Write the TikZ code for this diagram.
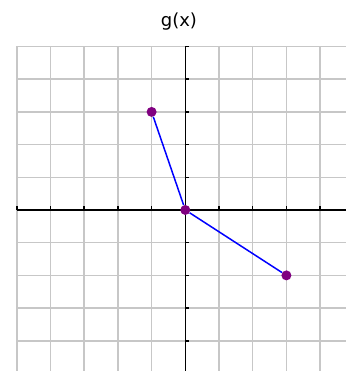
\documentclass[tikz,border=0pt]{standalone}
\usepackage{fontspec}
\setsansfont{DejaVu Sans}
\usetikzlibrary{positioning}

\begin{document}
\begin{tikzpicture}
[
	x=33.7pt, y=32.7pt,
	gridline/.style={draw=black!22,line width=1.5pt},
	axis/.style={draw=black,line width=1.5pt},
	dot/.style={shape=circle,fill=violet,draw=none,minimum size=10pt,inner sep=0pt},
	graph/.style={draw=blue,line width=1.5pt},
]
	\useasboundingbox (-5.499,-4.924) rectangle (4.769,6.422);

	\begin{scope}
		\draw[gridline,step=1] (-5,-4.924) grid (4.769,5);
		\draw[axis] (-5,0) -- (4.769,0);
		\draw[axis] (0,-4.924) -- (0,5);
		\foreach \x in {-5,...,4}
			\draw[axis] (\x,0) -- ++(0,4pt);
		\foreach \y in {-4,...,5}
			\draw[axis] (0,\y) -- ++(4pt,0);
	\end{scope}

	\node[font=\sffamily\fontsize{18}{21}\selectfont] (title) at (-0.19,5.75) {g(x)};

	\begin{scope}
		\node[dot] (a) at (-1,3) {};
		\node[dot] (o) at (0,0) {};
		\node[dot] (b) at (3,-2) {};

		\draw[graph] (a) -- (o) -- (b);
	\end{scope}
\end{tikzpicture}
\end{document}
